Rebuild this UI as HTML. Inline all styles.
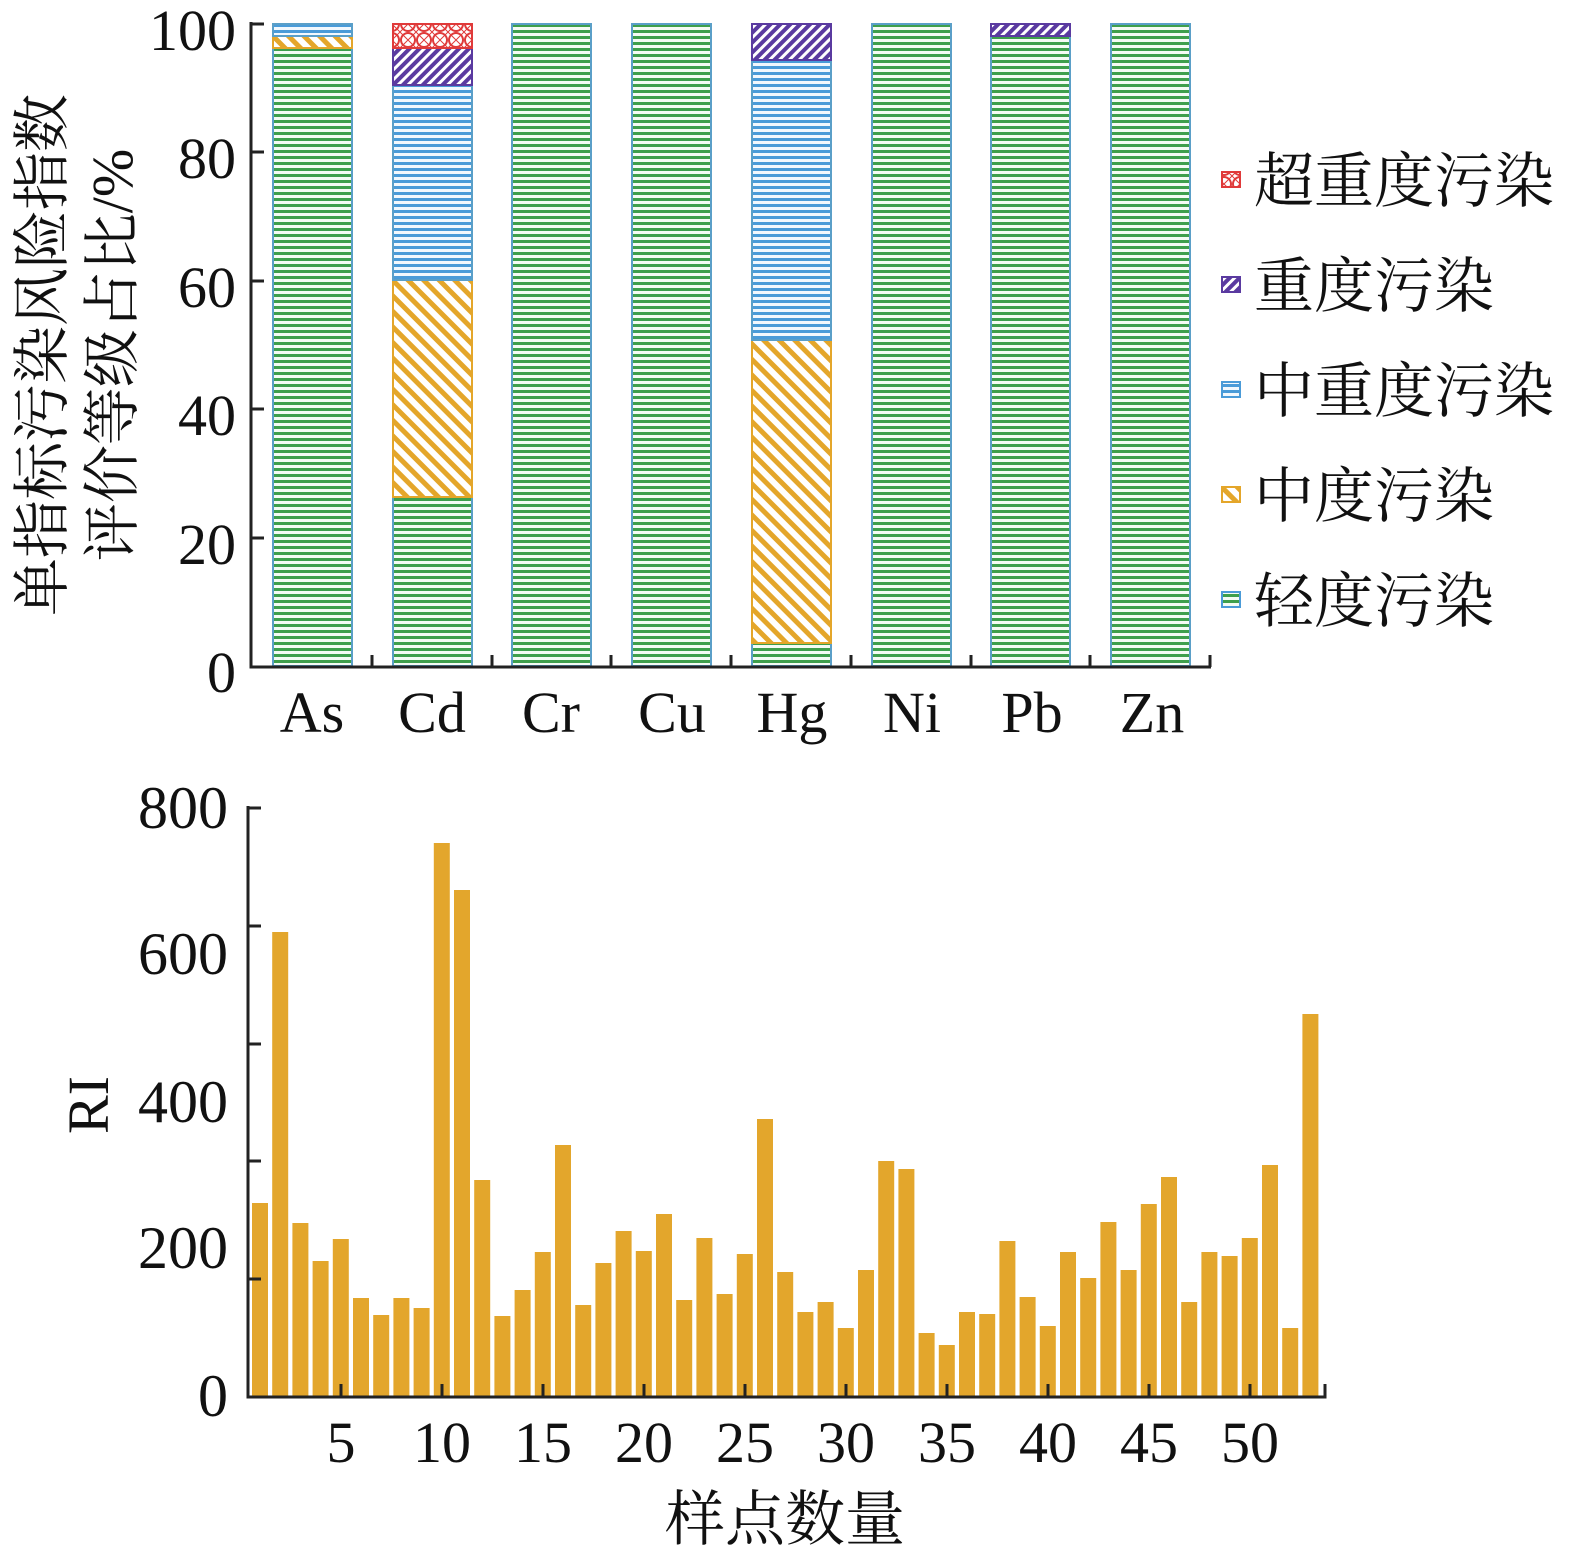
<!DOCTYPE html>
<html><head><meta charset="utf-8"><style>body{margin:0;background:#fff}svg{display:block}</style></head><body>
<svg width="1575" height="1565" viewBox="0 0 1575 1565" xmlns="http://www.w3.org/2000/svg">
<defs>
<pattern id="pg" patternUnits="userSpaceOnUse" width="10" height="6"><rect width="10" height="6" fill="#f4fbf4"/><rect y="0" width="10" height="3" fill="#3e9f4c"/></pattern>
<pattern id="pb" patternUnits="userSpaceOnUse" width="10" height="6"><rect width="10" height="6" fill="#f2f8fd"/><rect y="0" width="10" height="3" fill="#4a9bd8"/></pattern>
<pattern id="po" patternUnits="userSpaceOnUse" width="11" height="11" patternTransform="rotate(-45)"><rect width="11" height="11" fill="#fff"/><rect width="5" height="11" fill="#e4a62a"/></pattern>
<pattern id="pp" patternUnits="userSpaceOnUse" width="7" height="7" patternTransform="rotate(45)"><rect width="7" height="7" fill="#fff"/><rect width="4" height="7" fill="#5a3aa0"/></pattern>
<pattern id="pr" patternUnits="userSpaceOnUse" width="16" height="16"><rect width="16" height="16" fill="#fff"/><circle cx="8" cy="8" r="7" fill="none" stroke="#e03a3a" stroke-width="2"/><path d="M0 0L16 16M16 0L0 16" stroke="#e03a3a" stroke-width="1"/></pattern>
</defs>
<g font-family="Liberation Serif, serif" fill="#111">
<g stroke-width="2">
<rect x="273" y="48" width="79" height="618" fill="url(#pg)" stroke="#5a9fc8"/>
<rect x="273" y="36" width="79" height="12" fill="url(#po)" stroke="#e4a62a"/>
<rect x="273" y="24" width="79" height="12" fill="url(#pb)" stroke="#5a9fc8"/>
<rect x="393" y="497" width="79" height="169" fill="url(#pg)" stroke="#5a9fc8"/>
<rect x="393" y="280" width="79" height="217" fill="url(#po)" stroke="#e4a62a"/>
<rect x="393" y="85" width="79" height="195" fill="url(#pb)" stroke="#5a9fc8"/>
<rect x="393" y="48" width="79" height="37" fill="url(#pp)" stroke="#5a3aa0"/>
<rect x="393" y="24" width="79" height="24" fill="url(#pr)" stroke="#e03a3a"/>
<rect x="512" y="24" width="79" height="642" fill="url(#pg)" stroke="#5a9fc8"/>
<rect x="632" y="24" width="79" height="642" fill="url(#pg)" stroke="#5a9fc8"/>
<rect x="752" y="643" width="79" height="23" fill="url(#pg)" stroke="#5a9fc8"/>
<rect x="752" y="340" width="79" height="303" fill="url(#po)" stroke="#e4a62a"/>
<rect x="752" y="60" width="79" height="280" fill="url(#pb)" stroke="#5a9fc8"/>
<rect x="752" y="24" width="79" height="36" fill="url(#pp)" stroke="#5a3aa0"/>
<rect x="872" y="24" width="79" height="642" fill="url(#pg)" stroke="#5a9fc8"/>
<rect x="991" y="36" width="79" height="630" fill="url(#pg)" stroke="#5a9fc8"/>
<rect x="991" y="24" width="79" height="12" fill="url(#pp)" stroke="#5a3aa0"/>
<rect x="1111" y="24" width="79" height="642" fill="url(#pg)" stroke="#5a9fc8"/>
</g>
<g stroke="#222" stroke-width="3" fill="none">
<path d="M251 22V667H1211"/>
<path d="M251 24h13M251 152h13M251 281h13M251 409h13M251 538h13"/>
<path d="M372 667v-12M492 667v-12M611 667v-12M731 667v-12M851 667v-12M971 667v-12M1090 667v-12M1210 667v-12"/>
</g>
<g font-size="58" text-anchor="end">
<text x="236" y="50">100</text><text x="236" y="178">80</text><text x="236" y="307">60</text><text x="236" y="435">40</text><text x="236" y="564">20</text><text x="236" y="692">0</text>
</g>
<g font-size="58" text-anchor="middle">
<text x="312" y="732">As</text><text x="432" y="732">Cd</text><text x="551" y="732">Cr</text><text x="672" y="732">Cu</text><text x="792" y="732">Hg</text><text x="912" y="732">Ni</text><text x="1032" y="732">Pb</text><text x="1152" y="732">Zn</text>
</g>
<g font-family="Liberation Serif, Noto Serif CJK SC, serif" font-size="58" text-anchor="middle">
<text transform="translate(62,355) rotate(-90)">单指标污染风险指数</text>
<text transform="translate(132,355) rotate(-90)">评价等级占比/%</text>
</g>
<g stroke-width="2">
<rect x="1222" y="172" width="18" height="15" fill="url(#pr)" stroke="#e03a3a"/>
<rect x="1222" y="277" width="18" height="15" fill="url(#pp)" stroke="#5a3aa0"/>
<rect x="1222" y="382" width="18" height="15" fill="url(#pb)" stroke="#4a9bd8"/>
<rect x="1222" y="487" width="18" height="15" fill="url(#po)" stroke="#e4a62a"/>
<rect x="1222" y="592" width="18" height="15" fill="url(#pg)" stroke="#4a9bd8"/>
</g>
<g font-family="Liberation Serif, Noto Serif CJK SC, serif" font-size="60">
<text x="1254" y="202">超重度污染</text><text x="1254" y="307">重度污染</text><text x="1254" y="412">中重度污染</text><text x="1254" y="517">中度污染</text><text x="1254" y="622">轻度污染</text>
</g>
<g fill="#e3a62c">
<rect x="252" y="1203" width="16" height="193"/>
<rect x="272.2" y="932" width="16" height="464"/>
<rect x="292.4" y="1223" width="16" height="173"/>
<rect x="312.6" y="1261" width="16" height="135"/>
<rect x="332.8" y="1239" width="16" height="157"/>
<rect x="353" y="1298" width="16" height="98"/>
<rect x="373.2" y="1315" width="16" height="81"/>
<rect x="393.4" y="1298" width="16" height="98"/>
<rect x="413.6" y="1308" width="16" height="88"/>
<rect x="433.8" y="843" width="16" height="553"/>
<rect x="454" y="890" width="16" height="506"/>
<rect x="474.2" y="1180" width="16" height="216"/>
<rect x="494.4" y="1316" width="16" height="80"/>
<rect x="514.6" y="1290" width="16" height="106"/>
<rect x="534.8" y="1252" width="16" height="144"/>
<rect x="555" y="1145" width="16" height="251"/>
<rect x="575.2" y="1305" width="16" height="91"/>
<rect x="595.4" y="1263" width="16" height="133"/>
<rect x="615.6" y="1231" width="16" height="165"/>
<rect x="635.8" y="1251" width="16" height="145"/>
<rect x="656" y="1214" width="16" height="182"/>
<rect x="676.2" y="1300" width="16" height="96"/>
<rect x="696.4" y="1238" width="16" height="158"/>
<rect x="716.6" y="1294" width="16" height="102"/>
<rect x="736.8" y="1254" width="16" height="142"/>
<rect x="757" y="1119" width="16" height="277"/>
<rect x="777.2" y="1272" width="16" height="124"/>
<rect x="797.4" y="1312" width="16" height="84"/>
<rect x="817.6" y="1302" width="16" height="94"/>
<rect x="837.8" y="1328" width="16" height="68"/>
<rect x="858" y="1270" width="16" height="126"/>
<rect x="878.2" y="1161" width="16" height="235"/>
<rect x="898.4" y="1169" width="16" height="227"/>
<rect x="918.6" y="1333" width="16" height="63"/>
<rect x="938.8" y="1345" width="16" height="51"/>
<rect x="959" y="1312" width="16" height="84"/>
<rect x="979.2" y="1314" width="16" height="82"/>
<rect x="999.4" y="1241" width="16" height="155"/>
<rect x="1019.6" y="1297" width="16" height="99"/>
<rect x="1039.8" y="1326" width="16" height="70"/>
<rect x="1060" y="1252" width="16" height="144"/>
<rect x="1080.2" y="1278" width="16" height="118"/>
<rect x="1100.4" y="1222" width="16" height="174"/>
<rect x="1120.6" y="1270" width="16" height="126"/>
<rect x="1140.8" y="1204" width="16" height="192"/>
<rect x="1161" y="1177" width="16" height="219"/>
<rect x="1181.2" y="1302" width="16" height="94"/>
<rect x="1201.4" y="1252" width="16" height="144"/>
<rect x="1221.6" y="1256" width="16" height="140"/>
<rect x="1241.8" y="1238" width="16" height="158"/>
<rect x="1262" y="1165" width="16" height="231"/>
<rect x="1282.2" y="1328" width="16" height="68"/>
<rect x="1302.4" y="1014" width="16" height="382"/>
</g>
<g stroke="#222" stroke-width="3" fill="none">
<path d="M248 806V1397H1325V1384"/>
<path d="M248 808h13M248 926h13M248 1044h13M248 1161h13M248 1279h13"/>
<path d="M341 1397v-13M442 1397v-13M543 1397v-13M644 1397v-13M745 1397v-13M846 1397v-13M947 1397v-13M1048 1397v-13M1149 1397v-13M1250 1397v-13"/>
</g>
<g font-size="60" text-anchor="end">
<text x="228" y="828">800</text><text x="228" y="974">600</text><text x="228" y="1122">400</text><text x="228" y="1268">200</text><text x="228" y="1416">0</text>
</g>
<g font-size="58" text-anchor="middle">
<text x="341" y="1462">5</text><text x="442" y="1462">10</text><text x="543" y="1462">15</text><text x="644" y="1462">20</text><text x="745" y="1462">25</text><text x="846" y="1462">30</text><text x="947" y="1462">35</text><text x="1048" y="1462">40</text><text x="1149" y="1462">45</text><text x="1250" y="1462">50</text>
</g>
<text transform="translate(108,1105) rotate(-90)" font-size="58" text-anchor="middle">RI</text>
<text x="785" y="1540" font-family="Liberation Serif, Noto Serif CJK SC, serif" font-size="60" text-anchor="middle">样点数量</text>
</g>
</svg>
</body></html>
